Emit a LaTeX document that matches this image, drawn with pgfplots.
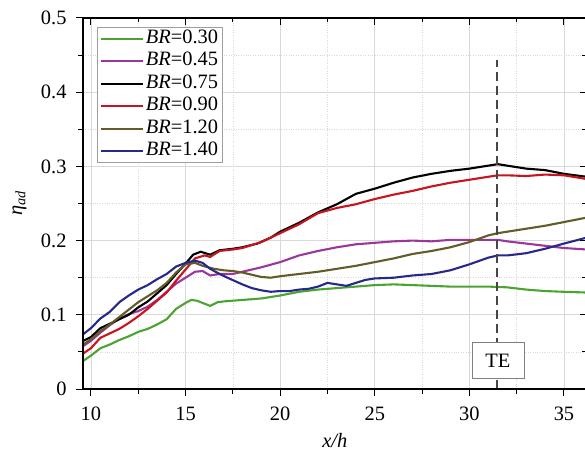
\documentclass[border=0pt]{standalone}
\usepackage{fontspec}
\setmainfont{Liberation Serif}
\usepackage{pgfplots}
\pgfplotsset{compat=1.18}

\definecolor{cG}{RGB}{76,163,50}
\definecolor{cP}{RGB}{155,55,155}
\definecolor{cR}{RGB}{200,20,30}
\definecolor{cO}{RGB}{98,92,40}
\definecolor{cB}{RGB}{40,40,140}
\definecolor{cTE}{RGB}{70,70,70}

\newcommand{\lblfont}{\fontsize{20.5}{23}\selectfont}

\pgfplotsset{
  effaxis/.style={
    at={(0,0)}, anchor=south west, scale only axis,
    width=503.5bp, height=371bp,
    xmin=9.58, xmax=36.19, ymin=0, ymax=0.5,
    xtick={10,15,...,35}, ytick={0,0.1,0.2,0.3,0.4,0.5},
    minor x tick num=1, minor y tick num=1,
    major tick length=7bp, minor tick length=4.5bp,
    axis line style={line width=1.1bp},
    every tick/.style={black, line width=1bp},
  },
  curve/.style={#1, line width=2.1bp, no markers},
}

\begin{document}
\begin{tikzpicture}
\path[use as bounding box] (-83bp,-68bp) rectangle (502bp,389bp);

\begin{axis}[
  effaxis,
  xtick pos=bottom, ytick pos=left, tick align=outside,
  grid=both,
  major grid style={gray!30, line width=0.6bp},
  minor grid style={gray!30, dotted, line width=0.6bp},
  tick label style={font=\lblfont},
  xticklabel style={yshift=-7bp},
  yticklabel style={xshift=-6bp},
  /pgf/number format/assume math mode=true,
  xlabel={\textit{x/h}},
  ylabel={\textit{η}\textsubscript{\textit{ad}}},
  every axis x label/.style={at={(axis description cs:0.5,-0.158)}, anchor=base, font=\lblfont},
  every axis y label/.style={at={(axis description cs:-0.126,0.5)}, rotate=90, anchor=center, font=\lblfont},
  legend style={at={(axis description cs:0.0278,0.9757)}, anchor=north west,
    draw=gray!75, line width=0.8bp, fill=white,
    inner xsep=3bp, inner ysep=0bp, font=\lblfont,
    nodes={text height=14bp, text depth=4.5bp, inner ysep=2bp, inner xsep=1.5bp},
    cells={anchor=west}},
  legend image code/.code={\draw[#1, line width=2bp] (0bp,0bp) -- (42bp,0bp);},
]

% BR = 0.30
\addplot[curve=cG] coordinates {
(9.6,0.038) (10.0,0.045) (10.5,0.055) (11.0,0.060) (11.5,0.066) (12.0,0.071)
(12.5,0.077) (13.0,0.081) (13.5,0.087) (14.0,0.094) (14.5,0.108) (15.0,0.116)
(15.3,0.120) (15.6,0.119) (16.0,0.115) (16.3,0.112) (16.7,0.117) (17.0,0.118)
(17.5,0.119) (18.0,0.120) (19.0,0.122) (20.0,0.126) (21.0,0.131) (22.0,0.134)
(23.0,0.136) (24.0,0.138) (25.0,0.140) (26.0,0.141) (27.0,0.140) (28.0,0.139)
(29.0,0.138) (30.0,0.138) (31.0,0.138) (32.0,0.137) (33.0,0.134) (34.0,0.132)
(35.0,0.131) (36.2,0.130)};
\addlegendentry{\textit{BR}=0.30}

% BR = 0.45
\addplot[curve=cP] coordinates {
(9.6,0.058) (10.0,0.065) (10.5,0.076) (11.0,0.086) (11.5,0.095) (12.0,0.101)
(12.5,0.105) (13.0,0.111) (13.5,0.120) (14.0,0.131) (14.5,0.142) (15.0,0.150)
(15.5,0.158) (15.9,0.159) (16.3,0.153) (16.8,0.155) (17.5,0.155) (18.0,0.158)
(19.0,0.164) (20.0,0.171) (21.0,0.180) (22.0,0.186) (23.0,0.191) (24.0,0.195)
(25.0,0.197) (26.0,0.199) (27.0,0.200) (28.0,0.199) (29.0,0.201) (30.0,0.201)
(31.0,0.201) (31.5,0.201) (32.0,0.199) (33.0,0.196) (34.0,0.193) (35.0,0.190)
(36.2,0.188)};
\addlegendentry{\textit{BR}=0.45}

% BR = 0.75
\addplot[curve=black] coordinates {
(9.6,0.065) (10.0,0.070) (10.5,0.082) (11.0,0.088) (11.5,0.094) (12.0,0.100)
(12.5,0.110) (13.0,0.118) (13.5,0.129) (14.0,0.140) (14.5,0.155) (15.0,0.169)
(15.4,0.181) (15.8,0.185) (16.3,0.181) (16.8,0.187) (17.5,0.189) (18.0,0.191)
(18.8,0.196) (19.5,0.204) (20.0,0.212) (21.0,0.224) (22.0,0.238) (23.0,0.249)
(24.0,0.263) (25.0,0.270) (26.0,0.278) (27.0,0.285) (28.0,0.290) (29.0,0.294)
(30.0,0.297) (31.0,0.301) (31.5,0.303) (32.0,0.301) (33.0,0.297) (34.0,0.295)
(35.0,0.290) (36.2,0.286)};
\addlegendentry{\textit{BR}=0.75}

% BR = 0.90
\addplot[curve=cR] coordinates {
(9.6,0.048) (10.0,0.055) (10.5,0.069) (11.0,0.075) (11.5,0.081) (12.0,0.089)
(12.5,0.098) (13.0,0.108) (13.5,0.119) (14.0,0.130) (14.5,0.146) (15.0,0.161)
(15.5,0.176) (16.0,0.180) (16.3,0.178) (16.8,0.186) (17.5,0.188) (18.0,0.190)
(19.0,0.198) (20.0,0.210) (21.0,0.222) (22.0,0.237) (23.0,0.244) (24.0,0.249)
(25.0,0.256) (26.0,0.262) (27.0,0.267) (28.0,0.273) (29.0,0.278) (30.0,0.282)
(31.0,0.286) (31.5,0.288) (32.0,0.288) (33.0,0.287) (34.0,0.289) (35.0,0.288)
(36.2,0.283)};
\addlegendentry{\textit{BR}=0.90}

% BR = 1.20
\addplot[curve=cO] coordinates {
(9.6,0.060) (10.0,0.067) (10.5,0.078) (11.0,0.087) (11.5,0.097) (12.0,0.107)
(12.5,0.117) (13.0,0.125) (13.5,0.133) (14.0,0.143) (14.5,0.157) (15.0,0.168)
(15.5,0.170) (15.9,0.166) (16.5,0.162) (17.0,0.160) (17.5,0.159) (18.0,0.157)
(19.0,0.151) (19.5,0.150) (20.0,0.152) (21.0,0.155) (22.0,0.158) (23.0,0.162)
(24.0,0.166) (25.0,0.171) (26.0,0.176) (27.0,0.182) (28.0,0.186) (29.0,0.191)
(30.0,0.198) (31.0,0.207) (31.5,0.210) (32.0,0.212) (33.0,0.216) (34.0,0.220)
(35.0,0.225) (36.2,0.231)};
\addlegendentry{\textit{BR}=1.20}

% BR = 1.40
\addplot[curve=cB] coordinates {
(9.6,0.074) (10.0,0.082) (10.5,0.095) (11.0,0.104) (11.5,0.117) (12.0,0.126)
(12.5,0.134) (13.0,0.140) (13.5,0.148) (14.0,0.155) (14.5,0.165) (15.0,0.170)
(15.5,0.173) (15.9,0.170) (16.3,0.162) (16.8,0.155) (17.3,0.149) (18.0,0.141)
(18.5,0.136) (19.0,0.133) (19.5,0.131) (20.0,0.132) (20.5,0.132) (21.0,0.134)
(21.5,0.135) (22.0,0.138) (22.5,0.143) (23.0,0.141) (23.5,0.139) (24.0,0.143)
(24.5,0.147) (25.0,0.149) (26.0,0.150) (27.0,0.153) (28.0,0.155) (29.0,0.160)
(30.0,0.168) (31.0,0.177) (31.5,0.180) (32.0,0.180) (33.0,0.183) (34.0,0.189)
(35.0,0.196) (36.2,0.204)};
\addlegendentry{\textit{BR}=1.40}

% trailing-edge marker
\addplot[cTE, line width=1.6bp, dash pattern=on 9bp off 5bp, forget plot]
  coordinates {(31.45,0) (31.45,0.443)};
\node[draw=gray, line width=0.8bp, fill=white, minimum width=52bp, minimum height=36bp,
      inner sep=0pt, font=\lblfont] at (axis cs:31.51,0.038) {TE};
\end{axis}

% mirrored inward ticks on the top and right edges
\begin{axis}[
  effaxis,
  xtick pos=top, ytick pos=right, tick align=inside,
  xticklabels={}, yticklabels={},
]
\end{axis}
\end{tikzpicture}
\end{document}
